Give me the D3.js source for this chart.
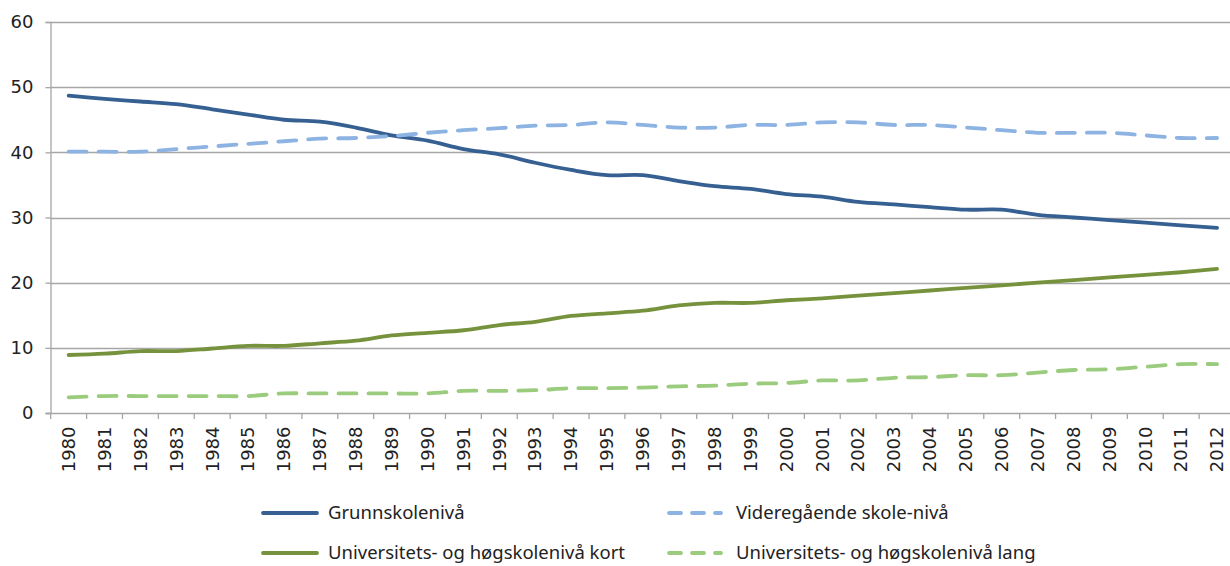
<!DOCTYPE html>
<html>
<head>
<meta charset="utf-8">
<script src="https://cdn.jsdelivr.net/npm/d3@7"></script>
<style>
  body { margin: 0; background: #fff; }
  svg { display: block; }
</style>
</head>
<body>
<script>
// data
const years = d3.range(1980, 2013).map(String);
const grunnskole = [48.7,48.2,47.8,47.4,46.6,45.8,45.0,44.7,43.8,42.6,41.8,40.5,39.7,38.4,37.3,36.5,36.5,35.6,34.8,34.4,33.6,33.2,32.4,32.0,31.6,31.2,31.2,30.4,30.0,29.6,29.2,28.8,28.4];
const videregaende = [40.1,40.1,40.1,40.5,40.9,41.3,41.7,42.1,42.2,42.5,43.0,43.4,43.7,44.1,44.2,44.6,44.2,43.8,43.8,44.2,44.2,44.6,44.6,44.2,44.2,43.8,43.4,43.0,43.0,43.0,42.6,42.2,42.2];
const uniKort = [8.9,9.1,9.5,9.5,9.9,10.3,10.3,10.7,11.1,11.9,12.3,12.7,13.5,14.0,14.9,15.3,15.7,16.5,16.9,16.9,17.3,17.6,18.0,18.4,18.8,19.2,19.6,20.0,20.4,20.8,21.2,21.6,22.1];
const uniLang = [2.4,2.6,2.6,2.6,2.6,2.6,3.0,3.0,3.0,3.0,3.0,3.4,3.4,3.5,3.8,3.8,3.9,4.1,4.2,4.5,4.6,5.0,5.0,5.4,5.5,5.8,5.8,6.2,6.6,6.7,7.1,7.5,7.5];
const yTicks = [0,10,20,30,40,50,60];

const series = [
  {name: "Grunnskolenivå", values: grunnskole, color: "#366092", dash: null},
  {name: "Videregående skole-nivå", values: videregaende, color: "#8db3e2", dash: "18 12"},
  {name: "Universitets- og høgskolenivå kort", values: uniKort, color: "#76923c", dash: null},
  {name: "Universitets- og høgskolenivå lang", values: uniLang, color: "#9bcc7e", dash: "18 12"}
];

const W = 1230, H = 566;
const svg = d3.select("body").append("svg")
    .attr("width", W)
    .attr("height", H);

const x = d3.scaleBand().domain(years).range([50.7, 1235]);
const y = d3.scaleLinear().domain([0, 60]).range([413, 22]);

// gridlines
svg.append("g")
  .selectAll("line")
  .data(yTicks.filter(d => d > 0))
  .enter().append("line")
    .attr("x1", 50.5).attr("x2", W)
    .attr("y1", d => Math.round(y(d)) + 0.5)
    .attr("y2", d => Math.round(y(d)) + 0.5)
    .attr("stroke", "#a6a6a6")
    .attr("stroke-width", 1.3);

// y axis
const yAxis = svg.append("g")
    .attr("transform", "translate(50.5,0)")
    .call(d3.axisLeft(y).tickValues(yTicks).tickSize(5).tickPadding(12));
yAxis.select(".domain").attr("stroke", "#a6a6a6").attr("stroke-width", 1.3);
yAxis.selectAll(".tick line").attr("stroke", "#a6a6a6").attr("stroke-width", 1.3);
yAxis.selectAll("text")
    .attr("font-family", "DejaVu Sans")
    .attr("font-size", 18)
    .attr("fill", "#222");

// x axis
const xAxis = svg.append("g")
    .attr("transform", "translate(0,413.5)")
    .call(d3.axisBottom(x).tickSize(0).tickPadding(0));
xAxis.select(".domain").remove();
xAxis.selectAll(".tick text")
    .attr("font-family", "DejaVu Sans")
    .attr("font-size", 18)
    .attr("fill", "#222")
    .attr("transform", "rotate(-90)")
    .attr("text-anchor", "end")
    .attr("x", -13)
    .attr("y", 0)
    .attr("dy", "0.35em");

// x axis line and ticks at band edges
svg.append("line")
    .attr("x1", 46).attr("x2", W)
    .attr("y1", 413.5).attr("y2", 413.5)
    .attr("stroke", "#a6a6a6").attr("stroke-width", 1.3);
svg.append("g")
  .selectAll("line")
  .data(years.concat(["end"]))
  .enter().append("line")
    .attr("x1", (d, i) => x.range()[0] + i * x.step())
    .attr("x2", (d, i) => x.range()[0] + i * x.step())
    .attr("y1", 413.5).attr("y2", 419)
    .attr("stroke", "#a6a6a6").attr("stroke-width", 1.3);

// lines
const line = d3.line()
    .x((d, i) => x(years[i]) + x.bandwidth() / 2)
    .y(d => y(d))
    .curve(d3.curveCatmullRom.alpha(0.5));

svg.append("g")
  .selectAll("path")
  .data(series)
  .enter().append("path")
    .attr("d", d => line(d.values))
    .attr("fill", "none")
    .attr("stroke", d => d.color)
    .attr("stroke-width", 3.8)
    .attr("stroke-linecap", "round")
    .attr("stroke-linejoin", "round")
    .attr("stroke-dasharray", d => d.dash);

// legend
const legendPos = [[263, 513], [667, 513], [263, 553], [667, 553]];
const legend = svg.append("g")
  .selectAll("g")
  .data(series)
  .enter().append("g")
    .attr("transform", (d, i) => `translate(${legendPos[i][0]},${legendPos[i][1]})`);

legend.append("line")
    .attr("x1", (d, i) => i % 2 ? 2 : 0)
    .attr("x2", 54)
    .attr("y1", 0).attr("y2", 0)
    .attr("stroke", d => d.color)
    .attr("stroke-width", 3.8)
    .attr("stroke-linecap", "round")
    .attr("stroke-dasharray", d => d.dash ? "12 11" : null);

legend.append("text")
    .attr("x", (d, i) => i % 2 ? 69 : 65)
    .attr("y", 0)
    .attr("dy", "0.35em")
    .attr("font-family", "Noto Sans")
    .attr("font-size", 18.5)
    .attr("fill", "#222")
    .text(d => d.name);
</script>
</body>
</html>
